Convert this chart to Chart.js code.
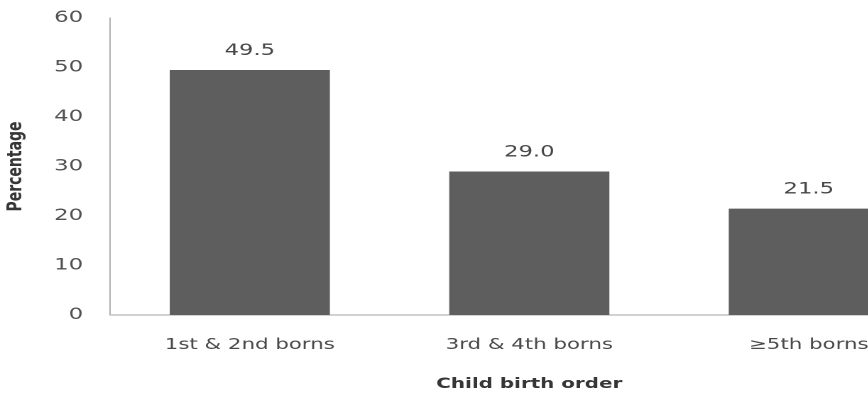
<!DOCTYPE html>
<html>
<head>
<meta charset="utf-8">
<script src="https://cdn.jsdelivr.net/npm/chart.js@4"></script>
<style>
  html, body { margin: 0; padding: 0; background: #ffffff; overflow: hidden; }
  /* the figure is laid out narrow and widened horizontally */
  #wrap {
    position: absolute; left: 0; top: 0;
    width: 668px; height: 396px;
    transform: scaleX(1.42);
    transform-origin: 0 0;
  }
</style>
</head>
<body>
<div id="wrap"><canvas id="chart"></canvas></div>
<script>
// Share of children by birth order
const categories = ['1st & 2nd borns', '3rd & 4th borns', '\u22655th borns'];
const percentages = [49.5, 29.0, 21.5];
const yTickValues = [0, 10, 20, 30, 40, 50, 60];
const xAxisTitle = 'Child birth order';
const yAxisTitle = 'Percentage';

// Value printed above each bar
const valueLabelPlugin = {
  id: 'valueLabels',
  afterDatasetsDraw(chart) {
    const ctx = chart.ctx;
    const meta = chart.getDatasetMeta(0);
    ctx.save();
    ctx.font = '16px "DejaVu Sans"';
    ctx.fillStyle = '#474747';
    ctx.textAlign = 'center';
    ctx.textBaseline = 'middle';
    meta.data.forEach((bar, i) => {
      ctx.fillText(percentages[i].toFixed(1), bar.x, bar.y - 19);
    });
    ctx.restore();
  }
};

new Chart(document.getElementById('chart'), {
  type: 'bar',
  data: {
    labels: categories,
    datasets: [{
      data: percentages,
      backgroundColor: '#5e5e5e',
      borderWidth: 0,
      barPercentage: 0.573,
      categoryPercentage: 1.0
    }]
  },
  options: {
    responsive: true,
    maintainAspectRatio: false,
    animation: false,
    devicePixelRatio: 2,
    layout: { padding: { top: 18, left: 0, right: 0, bottom: 0 } },
    plugins: {
      legend: { display: false },
      tooltip: { enabled: false }
    },
    scales: {
      x: {
        grid: { display: false, drawTicks: false },
        border: { display: true, color: '#a4a4a4', width: 1 },
        ticks: {
          padding: 21,
          color: '#4a4a4a',
          autoSkip: false,
          maxRotation: 0,
          font: { family: '"DejaVu Sans"', size: 15 }
        },
        title: {
          display: true,
          text: xAxisTitle,
          color: '#363636',
          padding: { top: 0, bottom: 3 },
          font: { family: '"DejaVu Sans"', size: 14, weight: 'bold' }
        },
        afterFit(scale) { scale.height = 81; }
      },
      y: {
        min: 0,
        max: 60,
        afterBuildTicks(scale) { scale.ticks = yTickValues.map(v => ({ value: v })); },
        grid: { display: false, drawTicks: false },
        border: { display: true, color: '#b0b0b0', width: 1 },
        ticks: {
          padding: 19,
          color: '#525252',
          font: { family: '"DejaVu Sans"', size: 16 }
        },
        title: {
          display: true,
          text: yAxisTitle,
          color: '#363636',
          padding: { top: 2.9, bottom: 0 },
          font: { family: '"DejaVu Sans"', size: 14, weight: 'bold' }
        },
        afterFit(scale) {
          scale.width = 77.5;
          scale.paddingTop = 0;
          scale.paddingBottom = 0;
        }
      }
    }
  },
  plugins: [valueLabelPlugin]
});
</script>
</body>
</html>
